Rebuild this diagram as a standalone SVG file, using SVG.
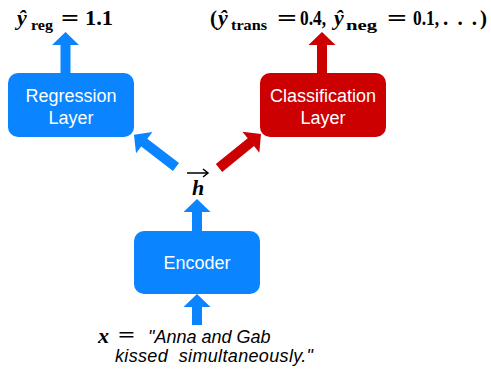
<svg xmlns="http://www.w3.org/2000/svg" width="491" height="372" viewBox="0 0 491 372">
<style>
.blue{fill:#0a84ff}
.red{fill:#cc0000}
.lbl{font-family:"Liberation Sans",Arial,sans-serif;font-size:18px;fill:#ffffff;text-anchor:middle}
.m{font-family:"Liberation Serif","DejaVu Serif",serif;font-weight:bold;fill:#000}
.mi{font-style:italic}
.q{font-family:"Liberation Sans",Arial,sans-serif;font-size:18px;font-style:italic;fill:#000;white-space:pre}
</style>
<rect width="491" height="372" fill="#ffffff"/>
<g id="connectors">
  <polygon class="blue" points="60.5,73 60.5,45 52,45 65.5,32 79,45 70.5,45 70.5,73"/>
  <polygon class="red" points="317,73 317,45 308.5,45 322,32 335.5,45 327,45 327,73"/>
  <polygon class="blue" points="192,231 192,212 183.5,212 197,199 210.5,212 202,212 202,231"/>
  <polygon class="blue" points="192,325 192,307 183.5,307 197,294 210.5,307 202,307 202,325"/>
  <polygon class="blue" transform="translate(176,167) rotate(217.5)" points="0,-5 40,-5 40,-13.5 53,0 40,13.5 40,5 0,5"/>
  <polygon class="red" transform="translate(219,168) rotate(-39)" points="0,-5 41,-5 41,-13.5 54,0 41,13.5 41,5 0,5"/>
</g>
<g id="regression">
  <rect class="blue" x="8" y="73" width="126" height="64" rx="10"/>
  <text class="lbl" x="71" y="102">Regression</text>
  <text class="lbl" x="71" y="124">Layer</text>
</g>
<g id="classification">
  <rect class="red" x="260" y="73" width="126" height="64" rx="10"/>
  <text class="lbl" x="323" y="102">Classification</text>
  <text class="lbl" x="323" y="124">Layer</text>
</g>
<g id="encoder">
  <rect class="blue" x="134" y="231" width="126" height="63" rx="10"/>
  <text class="lbl" x="197" y="269">Encoder</text>
</g>
<g id="h">
  <text class="m mi" x="192" y="195" font-size="22">h</text>
  <path d="M187,173 H207.5 M203,169 L208,173 L203,177" fill="none" stroke="#000" stroke-width="1.5"/>
</g>
<g id="out-reg">
  <text class="m mi" x="17" y="25" font-size="22">ŷ</text>
  <text class="m" x="31" y="30" font-size="14" textLength="22" lengthAdjust="spacingAndGlyphs">reg</text>
  <text class="m" x="61" y="26" font-size="24" textLength="18" lengthAdjust="spacingAndGlyphs">=</text>
  <text class="m" x="85" y="25" font-size="22" textLength="28" lengthAdjust="spacingAndGlyphs">1.1</text>
</g>
<g id="out-cls">
  <text class="m" x="210" y="25" font-size="21">(</text>
  <text class="m mi" x="218" y="25" font-size="22">ŷ</text>
  <text class="m" x="231" y="30" font-size="14" textLength="36" lengthAdjust="spacingAndGlyphs">trans</text>
  <text class="m" x="277" y="26" font-size="24" textLength="20" lengthAdjust="spacingAndGlyphs">=</text>
  <text class="m" x="300" y="25" font-size="22" textLength="26" lengthAdjust="spacingAndGlyphs">0.4,</text>
  <text class="m mi" x="334" y="25" font-size="22">ŷ</text>
  <text class="m" x="346" y="30" font-size="14" textLength="31" lengthAdjust="spacingAndGlyphs">neg</text>
  <text class="m" x="387" y="26" font-size="24" textLength="20" lengthAdjust="spacingAndGlyphs">=</text>
  <text class="m" x="413" y="25" font-size="22" textLength="26" lengthAdjust="spacingAndGlyphs">0.1,</text>
  <text class="m" x="443" y="25" font-size="21" textLength="34" lengthAdjust="spacing">. . .</text>
  <text class="m" x="480" y="25" font-size="21">)</text>
</g>
<g id="input">
  <text class="m mi" x="98" y="343" font-size="22">x</text>
  <text class="m" x="118" y="342" font-size="20" textLength="17" lengthAdjust="spacingAndGlyphs">=</text>
  <text class="q" x="148" y="343">"Anna and Gab</text>
  <text class="q" x="115" y="362" textLength="198" lengthAdjust="spacing">kissed  simultaneously."</text>
</g>
</svg>
